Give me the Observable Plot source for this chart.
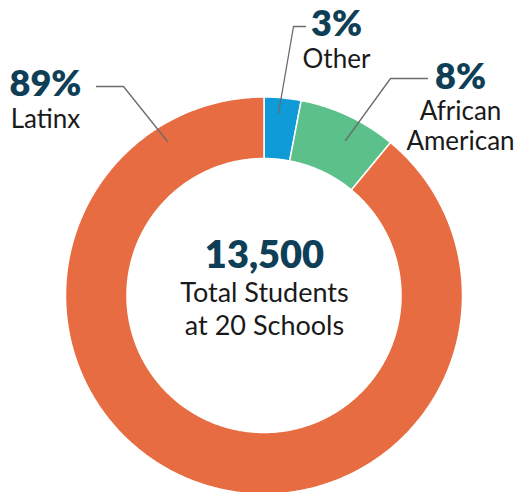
<!DOCTYPE html>
<html><head><meta charset="utf-8">
<script src="https://cdn.jsdelivr.net/npm/d3@7"></script>
<script src="https://cdn.jsdelivr.net/npm/@observablehq/plot@0.6"></script>
<style>
html,body{margin:0;padding:0;background:#fff;}
#chart svg{display:block;}
</style></head><body><div id="chart"></div>
<script>
// ---- data ----
const categories = ["Other", "African American", "Latinx"];
const shares = [3, 8, 89];
const sliceColors = ["#0f9bd7", "#5cc08a", "#e86c42"];
const nameLines = ["Other", "African\nAmerican", "Latinx"];
const totalStudents = 13500;
const schoolCount = 20;
const centerLines = ["Total Students", `at ${schoolCount} Schools`];

// ---- layout (pixels) ----
const W = 518, H = 492;
const cx = 263.5, cy = 295, R = 198.5, r = 137;
const labelX = [336, 460, 45];
const pctBase = [35, 88, 95];
const nameBase = [67, 149, 127];
const centerBase = [301.5, 334];
const leaderPaths = [
  [[305, 26], [293, 26], [278, 113]],
  [[427, 78], [390, 78], [345, 140]],
  [[96, 86], [123, 86], [167, 141]]
];
const toX = px => px - cx, toY = py => cy - py;

const arcs = d3.pie().sort(null).value(d => d.share)(
  categories.map((c, i) => ({category: c, share: shares[i]}))
);
const ring = [];
arcs.forEach(a => {
  const span = a.endAngle - a.startAngle;
  const n = Math.max(8, Math.ceil(span / 0.01));
  for (let k = 0; k <= n; k++) {
    const t = a.startAngle + span * k / n;
    ring.push({category: a.data.category, x: R * Math.sin(t), y: R * Math.cos(t)});
  }
  for (let k = n; k >= 0; k--) {
    const t = a.startAngle + span * k / n;
    ring.push({category: a.data.category, x: r * Math.sin(t), y: r * Math.cos(t)});
  }
});

const leaders = [];
leaderPaths.forEach((p, i) => p.forEach(([px, py]) => leaders.push({category: categories[i], x: toX(px), y: toY(py)})));

const labels = categories.map((c, i) => ({
  category: c, pct: `${shares[i]}%`, name: nameLines[i],
  x: toX(labelX[i]), yp: toY(pctBase[i]), yn: toY(nameBase[i])
}));
const centerText = centerLines.map((t, i) => ({text: t, y: toY(centerBase[i])}));

const font = "Lato, 'Open Sans', sans-serif";
const chart = Plot.plot({
  width: W, height: H, margin: 0,
  style: {fontFamily: font, background: "white"},
  x: {domain: [toX(0), toX(W)], axis: null},
  y: {domain: [toY(H), toY(0)], axis: null},
  color: {domain: categories, range: sliceColors},
  marks: [
    Plot.line(ring, {x: "x", y: "y", z: "category", fill: "category", stroke: "white", strokeWidth: 1.5, curve: "linear-closed"}),
    Plot.line(leaders, {x: "x", y: "y", z: "category", stroke: "#6b6b6b", strokeWidth: 1.3}),
    Plot.text(labels, {x: "x", y: "yp", text: "pct", lineAnchor: "bottom", textAnchor: "middle", fontSize: 36, fontWeight: 800, fill: "#0f3f57", fontFamily: font}),
    Plot.text(labels, {x: "x", y: "yn", text: "name", lineAnchor: "bottom", textAnchor: "middle", fontSize: 26, lineHeight: 1.12, fill: "#1a1a1a", fontFamily: font}),
    Plot.text([d3.format(",")(totalStudents)], {x: toX(264), y: toY(267), text: d => d, lineAnchor: "bottom", fontSize: 38, fontWeight: 800, fill: "#0f3f57", fontFamily: font}),
    Plot.text(centerText, {x: toX(264), y: "y", text: "text", lineAnchor: "bottom", fontSize: 27, fill: "#1a1a1a", fontFamily: font})
  ]
});
document.getElementById("chart").appendChild(chart);
</script></body></html>
